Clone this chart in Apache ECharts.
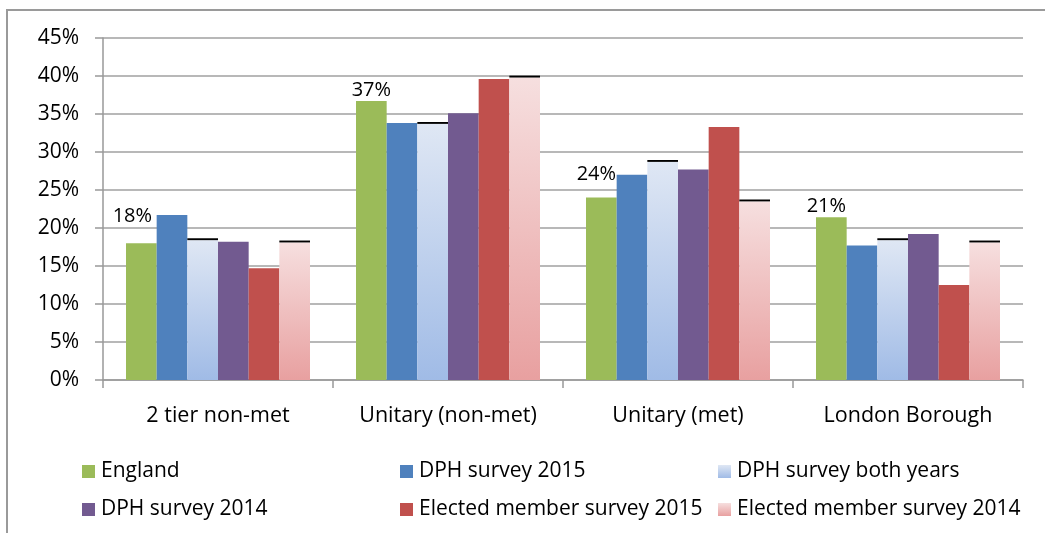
<!DOCTYPE html>
<html>
<head>
<meta charset="utf-8">
<script src="https://cdn.jsdelivr.net/npm/echarts@6/dist/echarts.min.js"></script>
<style>
  html, body { margin: 0; padding: 0; background: #fff; }
  #main { width: 1045px; height: 533px; }
</style>
</head>
<body>
<div id="main"></div>
<script>
// data
var categories = ['2 tier non-met', 'Unitary (non-met)', 'Unitary (met)', 'London Borough'];
var england = [18.0, 36.7, 24.0, 21.4];
var dph2015 = [21.7, 33.8, 27.0, 17.7];
var dphBoth = [18.4, 33.7, 28.7, 18.4];
var dph2014 = [18.2, 35.1, 27.7, 19.2];
var em2015 = [14.7, 39.6, 33.3, 12.5];
var em2014 = [18.1, 39.8, 23.5, 18.1];
var yTicks = [0, 45, 5]; // min, max, step

var FONT = 'Open Sans';
var myChart = echarts.init(document.getElementById('main'));

function grad(top, bottom) {
    return new echarts.graphic.LinearGradient(0, 0, 0, 1, [
        { offset: 0, color: top },
        { offset: 1, color: bottom }
    ]);
}
var blueGrad = grad('#dfe7f4', '#a0bbe6');
var pinkGrad = grad('#f6dfdf', '#e8a0a0');

// thin black line on top of the gradient bars
function cap(arr) {
    return arr.map(function () { return 0.25; });
}

// Excel moved some of the England labels, copy that
var labelShift = [[-9, 17], [0, 1], [-5, 13], [-5, 1]];
var englandData = england.map(function (v, i) {
    return {
        value: v,
        label: { offset: [labelShift[i][0], 0], distance: labelShift[i][1] }
    };
});

function legendAt(name, left, top) {
    return {
        data: [name],
        left: left,
        top: top,
        itemWidth: 13,
        itemHeight: 13,
        itemGap: 0,
        icon: 'rect',
        padding: 0,
        textStyle: { fontFamily: FONT, fontSize: 21, color: '#000', padding: [0, 0, 0, 1] },
        itemStyle: { borderWidth: 0 }
    };
}

var option = {
    animation: false,
    textStyle: { fontFamily: FONT },
    graphic: [{
        type: 'rect',
        shape: { x: 7, y: 10, width: 1200, height: 700 },
        style: { fill: 'none', stroke: '#9a9a9a', lineWidth: 2 }
    }],
    legend: [
        legendAt('England', 82, 461),
        legendAt('DPH survey 2015', 400, 461),
        legendAt('DPH survey both years', 718, 461),
        legendAt('DPH survey 2014', 82, 499),
        legendAt('Elected member survey 2015', 400, 499),
        legendAt('Elected member survey 2014', 718, 499)
    ],
    grid: { left: 103, right: 22, top: 38, bottom: 153 },
    xAxis: {
        type: 'category',
        data: categories,
        axisLine: { lineStyle: { color: '#999', width: 1.5 } },
        axisTick: { show: true, length: 8, lineStyle: { color: '#999', width: 1.5 } },
        axisLabel: {
            interval: 0, hideOverlap: false,
            fontFamily: FONT, fontSize: 21.5, color: '#000', margin: 25
        }
    },
    yAxis: {
        type: 'value',
        min: yTicks[0],
        max: yTicks[1],
        interval: yTicks[2],
        axisLine: { show: true, lineStyle: { color: '#999', width: 1.5 } },
        axisTick: { show: true, length: 8, lineStyle: { color: '#999', width: 1.5 } },
        splitLine: { lineStyle: { color: '#a0a0a0', width: 1.5 } },
        axisLabel: { fontFamily: FONT, fontSize: 21, color: '#000', margin: 24, formatter: '{value}%' }
    },
    series: [
        {
            name: 'England', type: 'bar', data: englandData,
            barGap: '0%', barCategoryGap: '20%',
            itemStyle: { color: '#9bbb59' },
            label: {
                show: true, position: 'top',
                fontFamily: FONT, fontSize: 20, color: '#000',
                formatter: function (p) { return Math.round(p.value) + '%'; }
            }
        },
        { name: 'DPH survey 2015', type: 'bar', data: dph2015, itemStyle: { color: '#4f81bd' } },
        { name: 'DPH survey both years', type: 'bar', stack: 'both', data: dphBoth, itemStyle: { color: blueGrad } },
        { name: 'cap1', type: 'bar', stack: 'both', data: cap(dphBoth), itemStyle: { color: '#000' }, silent: true },
        { name: 'DPH survey 2014', type: 'bar', data: dph2014, itemStyle: { color: '#725a90' } },
        { name: 'Elected member survey 2015', type: 'bar', data: em2015, itemStyle: { color: '#c0504d' } },
        { name: 'Elected member survey 2014', type: 'bar', stack: 'em14', data: em2014, itemStyle: { color: pinkGrad } },
        { name: 'cap2', type: 'bar', stack: 'em14', data: cap(em2014), itemStyle: { color: '#000' }, silent: true }
    ]
};
myChart.setOption(option);
</script>
</body>
</html>
